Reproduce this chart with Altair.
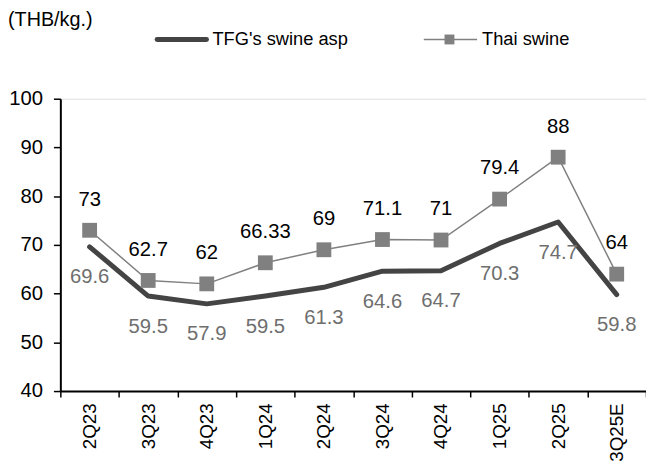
import altair as alt
import pandas as pd

cats = ["2Q23", "3Q23", "4Q23", "1Q24", "2Q24", "3Q24", "4Q24", "1Q25", "2Q25", "3Q25E"]
tfg = [69.6, 59.5, 57.9, 59.5, 61.3, 64.6, 64.7, 70.3, 74.7, 59.8]
tfg_labels = ["69.6", "59.5", "57.9", "59.5", "61.3", "64.6", "64.7", "70.3", "74.7", "59.8"]
thai = [73, 62.7, 62, 66.33, 69, 71.1, 71, 79.4, 88, 64]
thai_labels = ["73", "62.7", "62", "66.33", "69", "71.1", "71", "79.4", "88", "64"]

df = pd.DataFrame({"q": cats, "tfg": tfg, "tfg_l": tfg_labels, "thai": thai, "thai_l": thai_labels})

FONT = "Liberation Sans"
W, H = 593, 296

x = alt.X("q:N", sort=cats, title=None,
          scale=alt.Scale(type="band", paddingInner=0, paddingOuter=0),
          axis=alt.Axis(labelAngle=270, labelAlign="right", labelBaseline="middle",
                        labelFontSize=19, labelColor="black", labelFont=FONT,
                        tickBand="extent", tickSize=6, tickColor="black", tickWidth=1.5,
                        domainColor="black", domainWidth=2, labelPadding=6))
yscale = alt.Scale(domain=[40, 100], nice=False, zero=False)
yaxis = alt.Axis(values=[40, 50, 60, 70, 80, 90, 100], labelFontSize=20.5, labelColor="black",
                 labelFont=FONT, tickSize=7, tickColor="black", tickWidth=1.5,
                 domainColor="black", domainWidth=2, labelPadding=11, grid=False, title=None)

base = alt.Chart(df)

tfg_line = base.mark_line(color="#444444", strokeWidth=5, strokeCap="round", strokeJoin="round").encode(
    x=x, y=alt.Y("tfg:Q", scale=yscale, axis=yaxis))
thai_line = base.mark_line(color="#808080", strokeWidth=1.5).encode(
    x=x, y=alt.Y("thai:Q", scale=yscale))
thai_pts = base.mark_square(color="#808080", size=225, opacity=1).encode(
    x=x, y=alt.Y("thai:Q", scale=yscale))
thai_txt = base.mark_text(dy=-31, fontSize=20.5, font=FONT, color="black").encode(
    x=x, y=alt.Y("thai:Q", scale=yscale), text="thai_l:N")
tfg_txt = base.mark_text(dy=31, fontSize=20.5, font=FONT, color="#6e6e6e").encode(
    x=x, y=alt.Y("tfg:Q", scale=yscale), text="tfg_l:N")

# header text and legend
leg = pd.DataFrame({"a": [0]})
lb = alt.Chart(leg)
unit = lb.mark_text(align="left", baseline="middle", fontSize=20, font=FONT, color="black").encode(
    x=alt.value(-53), y=alt.value(-80), text=alt.value("(THB/kg.)"))
l1 = lb.mark_rule(color="#444444", strokeWidth=5, strokeCap="round").encode(
    x=alt.value(98), x2=alt.value(148), y=alt.value(-60))
t1 = lb.mark_text(align="left", baseline="middle", fontSize=18.5, font=FONT, color="black").encode(
    x=alt.value(154), y=alt.value(-60), text=alt.value("TFG's swine asp"))
l2 = lb.mark_rule(color="#808080", strokeWidth=1.5).encode(
    x=alt.value(368), x2=alt.value(422), y=alt.value(-60))
s2 = lb.mark_square(color="#808080", size=100, opacity=1).encode(
    x=alt.value(394), y=alt.value(-60))
t2 = lb.mark_text(align="left", baseline="middle", fontSize=18.5, font=FONT, color="black").encode(
    x=alt.value(427), y=alt.value(-60), text=alt.value("Thai swine"))

chart = alt.layer(tfg_line, thai_line, thai_pts, thai_txt, tfg_txt, unit, l1, t1, l2, s2, t2).properties(
    width=W, height=H,
    autosize=alt.AutoSizeParams(type="none"),
    padding={"left": 53, "top": 89, "right": 0, "bottom": 72},
).configure_view(stroke=None).configure(font=FONT)

chart.save("out.html", embed_options={"renderer": "svg", "actions": False})
